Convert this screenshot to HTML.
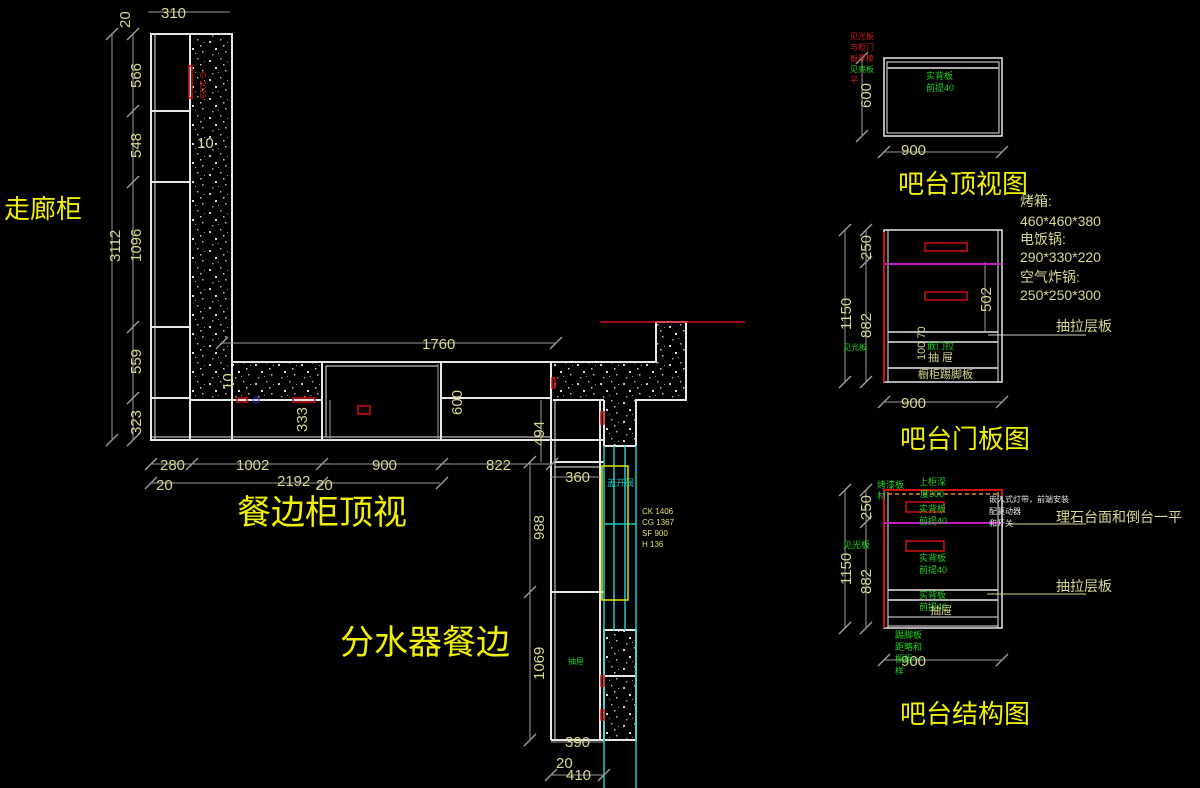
<!DOCTYPE html>
<html><head><meta charset="utf-8"><style>
html,body{margin:0;padding:0;background:#000;width:1200px;height:788px;overflow:hidden}
svg{display:block}
text{font-family:"Liberation Sans","Noto Sans CJK SC",sans-serif}
</style></head><body>
<svg width="1200" height="788" viewBox="0 0 1200 788" xmlns="http://www.w3.org/2000/svg">
<defs>
<pattern id="gr" width="23" height="19" patternUnits="userSpaceOnUse">
<rect width="23" height="19" fill="#000"/>
<rect x="2" y="3" width="2" height="2" fill="#ccc"/>
<rect x="13" y="1" width="1.5" height="1.5" fill="#aaa"/>
<rect x="8" y="10" width="2" height="2" fill="#ddd"/>
<rect x="18" y="13" width="1.5" height="1.5" fill="#bbb"/>
<rect x="5" y="16" width="1.5" height="1.5" fill="#999"/>
<rect x="16" y="7" width="1.5" height="1.5" fill="#ccc"/>
<rect x="11" y="15" width="1" height="1" fill="#999"/>
<rect x="20" y="4" width="1" height="1" fill="#999"/>
</pattern>
</defs>
<rect width="1200" height="788" fill="#000"/>

<g fill="url(#gr)">
<rect x="191" y="35" width="41" height="328"/>
<rect x="191" y="363" width="131" height="37"/>
<rect x="553" y="363" width="133" height="37"/>
<rect x="656" y="322" width="30" height="41"/>
<rect x="604" y="400" width="32" height="46"/>
<rect x="604" y="630" width="32" height="110"/>
</g>

<g stroke="#e6e6e6" stroke-width="2" fill="none">
<rect x="151" y="34" width="81" height="406"/>
<line x1="155" y1="34" x2="155" y2="440" stroke-width="1"/>
<line x1="190" y1="34" x2="190" y2="440"/>
<line x1="151" y1="111" x2="190" y2="111"/>
<line x1="151" y1="182" x2="190" y2="182"/>
<line x1="151" y1="327" x2="190" y2="327"/>
<line x1="151" y1="398" x2="190" y2="398"/>
<polyline points="232,362 656,362 656,322 686,322 686,400 636,400 636,446"/>
<line x1="190" y1="400" x2="322" y2="400"/>
<line x1="151" y1="440" x2="604" y2="440"/>
<line x1="151" y1="437" x2="551" y2="437" stroke-width="1"/>
<rect x="322" y="362" width="119" height="78"/>
<rect x="326" y="366" width="112" height="71" stroke-width="1"/>
<line x1="441" y1="398" x2="551" y2="398"/>
<line x1="553" y1="400" x2="604" y2="400"/>
<line x1="551" y1="362" x2="551" y2="740"/>
<line x1="555" y1="400" x2="555" y2="740" stroke-width="1"/>
<line x1="600" y1="400" x2="600" y2="740"/>
<line x1="604" y1="400" x2="604" y2="446"/>
<line x1="555" y1="462" x2="604" y2="462"/>
<line x1="555" y1="467" x2="600" y2="467" stroke-width="1"/>
<line x1="551" y1="592" x2="604" y2="592"/>
<line x1="551" y1="740" x2="604" y2="740"/>
<line x1="604" y1="446" x2="636" y2="446"/>
<rect x="604" y="630" width="32" height="110"/>
<line x1="604" y1="676" x2="636" y2="676"/>
</g>

<g stroke="#1ec8c8" stroke-width="1.5">
<line x1="604" y1="446" x2="604" y2="788"/>
<line x1="614" y1="446" x2="614" y2="630"/>
<line x1="625" y1="446" x2="625" y2="630"/>
<line x1="636" y1="446" x2="636" y2="788"/>
<line x1="604" y1="524" x2="636" y2="524"/>
</g>
<rect x="602" y="466" width="26" height="134" stroke="#e6e600" stroke-width="1.5" fill="none"/>
<text x="607" y="486" font-size="9" fill="#20c0c0">盖开阀</text>
<g font-family="Liberation Mono" font-size="8" fill="#e0e070">
<text x="642" y="514">CK 1406</text><text x="642" y="525">CG 1367</text>
<text x="642" y="536">SF 900</text><text x="642" y="547">H 136</text>
</g>
<text x="568" y="664" font-size="8" fill="#20d020">抽屉</text>

<g stroke="#d01010" stroke-width="1.5" fill="none">
<line x1="600" y1="322" x2="745" y2="322"/>
<rect x="189" y="66" width="3" height="32"/>
<rect x="237" y="398" width="10" height="4"/>
<rect x="293" y="398" width="22" height="4"/>
<rect x="358" y="406" width="12" height="8"/>
<rect x="601" y="412" width="3" height="12"/>
<rect x="552" y="378" width="3" height="10"/>
<rect x="601" y="676" width="3" height="10"/>
<rect x="601" y="710" width="3" height="10"/>
</g>
<circle cx="256" cy="400" r="3" stroke="#2030e0" fill="none"/>
<text x="200" y="72" font-size="8" fill="#d02020" transform="rotate(90 200 72)">G 2023</text>

<g stroke="#9a9a9a" stroke-width="1" fill="none">
<line x1="112" y1="34" x2="112" y2="440"/>
<line x1="133" y1="34" x2="133" y2="440"/>
<line x1="148" y1="12" x2="230" y2="12"/>
<line x1="151" y1="464" x2="551" y2="464"/>
<line x1="151" y1="483" x2="440" y2="483"/>
<line x1="222" y1="343" x2="556" y2="343"/>
<line x1="330" y1="400" x2="330" y2="440"/>
<line x1="438" y1="364" x2="438" y2="440"/>
<line x1="541" y1="400" x2="541" y2="462"/>
<line x1="530" y1="462" x2="530" y2="740"/>
<line x1="551" y1="477" x2="600" y2="477"/>
<line x1="551" y1="742" x2="604" y2="742"/>
<line x1="551" y1="775" x2="604" y2="775"/>
<line x1="862" y1="58" x2="862" y2="136"/>
<line x1="884" y1="152" x2="1002" y2="152"/>
<line x1="845" y1="230" x2="845" y2="382"/>
<line x1="866" y1="230" x2="866" y2="382"/>
<line x1="884" y1="402" x2="1002" y2="402"/>
<line x1="985" y1="262" x2="985" y2="332"/>
<line x1="845" y1="490" x2="845" y2="628"/>
<line x1="866" y1="490" x2="866" y2="628"/>
<line x1="884" y1="660" x2="1002" y2="660"/>
</g>
<g stroke="#9a9a9a" stroke-width="1.5">
<path d="M106 40l12-12M106 446l12-12M127 40l12-12M127 117l12-12M127 188l12-12M127 333l12-12M127 404l12-12M127 446l12-12M145 470l12-12M186 470l12-12M316 470l12-12M436 470l12-12M546 470l12-12M145 489l12-12M316 489l12-12M436 489l12-12M216 349l12-12M550 349l12-12M856 64l12-12M856 142l12-12M878 158l12-12M996 158l12-12M839 236l12-12M839 388l12-12M860 236l12-12M860 268l12-12M860 388l12-12M878 408l12-12M996 408l12-12M839 496l12-12M839 634l12-12M860 496l12-12M860 528l12-12M860 634l12-12M878 666l12-12M996 666l12-12M524 598l12-12M524 468l12-12M524 746l12-12M545 781l12-12M598 781l12-12"/>
</g>

<g fill="#d8d890" font-size="15">
<text x="161" y="18">310</text>
<text x="160" y="470">280</text>
<text x="236" y="470">1002</text>
<text x="372" y="470">900</text>
<text x="486" y="470">822</text>
<text x="277" y="486">2192</text>
<text x="156" y="490">20</text><text x="316" y="490">20</text>
<text x="422" y="349">1760</text>
<text x="565" y="482">360</text>
<text x="565" y="747">390</text>
<text x="556" y="768">20</text>
<text x="566" y="780">410</text>
<text x="197" y="148">10</text>
<text x="901" y="155">900</text>
<text x="901" y="408">900</text>
<text x="901" y="666">900</text>
</g>
<g fill="#d8d890" font-size="15">
<text transform="translate(130,28) rotate(-90)">20</text>
<text transform="translate(141,88) rotate(-90)">566</text>
<text transform="translate(141,158) rotate(-90)">548</text>
<text transform="translate(120,262) rotate(-90)">3112</text>
<text transform="translate(141,262) rotate(-90)">1096</text>
<text transform="translate(141,374) rotate(-90)">559</text>
<text transform="translate(141,435) rotate(-90)">323</text>
<text transform="translate(233,390) rotate(-90)">10</text>
<text transform="translate(307,432) rotate(-90)">333</text>
<text transform="translate(462,415) rotate(-90)">600</text>
<text transform="translate(544,446) rotate(-90)">494</text>
<text transform="translate(544,540) rotate(-90)">988</text>
<text transform="translate(544,680) rotate(-90)">1069</text>
<text transform="translate(871,108) rotate(-90)">600</text>
<text transform="translate(871,260) rotate(-90)">250</text>
<text transform="translate(851,330) rotate(-90)">1150</text>
<text transform="translate(871,338) rotate(-90)">882</text>
<text transform="translate(991,312) rotate(-90)">502</text>
<text transform="translate(871,520) rotate(-90)">250</text>
<text transform="translate(851,585) rotate(-90)">1150</text>
<text transform="translate(871,594) rotate(-90)">882</text>
</g>

<g fill="#f0f000">
<text x="4" y="218" font-size="26">走廊柜</text>
<text x="237" y="524" font-size="34">餐边柜顶视</text>
<text x="340" y="654" font-size="34">分水器餐边</text>
<text x="898" y="193" font-size="26">吧台顶视图</text>
<text x="900" y="448" font-size="26">吧台门板图</text>
<text x="900" y="723" font-size="26">吧台结构图</text>
</g>

<g stroke="#e6e6e6" stroke-width="1.5" fill="none">
<rect x="884" y="58" width="118" height="78"/>
<rect x="887" y="62" width="112" height="71" stroke-width="1"/>
<line x1="887" y1="68" x2="999" y2="68" stroke="#aaa" stroke-width="2"/>
</g>
<g font-size="9" fill="#20d020"><text x="926" y="79">实背板</text><text x="926" y="91">前提40</text></g>
<g font-size="8" fill="#d02020"><text x="850" y="39">见光板</text><text x="850" y="50">与柜门</text><text x="850" y="61">板厚棱</text><text x="850" y="83">平</text></g>
<text x="850" y="72" font-size="8" fill="#20d020">见亮板</text>

<g stroke="#e6e6e6" stroke-width="1.5" fill="none">
<rect x="884" y="230" width="118" height="152"/>
<line x1="888" y1="230" x2="888" y2="382" stroke-width="1"/>
<line x1="998" y1="230" x2="998" y2="382" stroke-width="1"/>
<line x1="888" y1="332" x2="998" y2="332"/>
<line x1="888" y1="342" x2="998" y2="342"/>
<line x1="888" y1="368" x2="998" y2="368"/>
</g>
<line x1="884" y1="264" x2="1002" y2="264" stroke="#c020c0" stroke-width="2"/>
<line x1="884" y1="232" x2="884" y2="382" stroke="#d01010" stroke-width="2"/>
<g stroke="#d01010" stroke-width="1.5" fill="none"><rect x="925" y="243" width="42" height="8"/><rect x="925" y="292" width="42" height="8"/></g>
<text x="927" y="349" font-size="9" fill="#20d020">嵌门拉</text>
<text x="928" y="361" font-size="11" fill="#d8d890">抽 屉</text>
<text x="918" y="378" font-size="11" fill="#d8d890">橱柜踢脚板</text>
<text x="843" y="350" font-size="8" fill="#20d020">见光板</text>
<text transform="translate(925,360) rotate(-90)" font-size="11" fill="#d8d890">100 70</text>
<g fill="#d8d890" font-size="14">
<text x="1020" y="206">烤箱:</text><text x="1020" y="226">460*460*380</text>
<text x="1020" y="244">电饭锅:</text><text x="1020" y="262">290*330*220</text>
<text x="1020" y="282">空气炸锅:</text><text x="1020" y="300">250*250*300</text>
<text x="1056" y="331">抽拉层板</text>
</g>
<line x1="988" y1="335" x2="1086" y2="335" stroke="#ccc" stroke-width="1"/>

<g stroke="#e6e6e6" stroke-width="1.5" fill="none">
<rect x="884" y="490" width="118" height="138"/>
<line x1="888" y1="492" x2="888" y2="628" stroke-width="1"/>
<line x1="998" y1="492" x2="998" y2="628" stroke-width="1"/>
<line x1="888" y1="590" x2="998" y2="590"/>
<line x1="888" y1="600" x2="998" y2="600"/>
<line x1="888" y1="626" x2="998" y2="626" stroke-width="1"/>
<line x1="888" y1="617" x2="998" y2="617" stroke-width="1"/>
</g>
<polyline points="884,628 884,490 1002,490 1002,496" stroke="#d01010" stroke-width="2" fill="none"/>
<line x1="888" y1="494" x2="998" y2="494" stroke="#e09020" stroke-width="1.5" stroke-dasharray="4,3"/>
<line x1="884" y1="523" x2="1002" y2="523" stroke="#c020c0" stroke-width="2"/>
<g stroke="#d01010" stroke-width="1.5" fill="none"><rect x="906" y="502" width="38" height="10"/><rect x="906" y="541" width="38" height="10"/></g>
<g font-size="9" fill="#20d020">
<text x="877" y="488">烤漆板</text><text x="877" y="499">材</text>
<text x="919" y="485">上柜深</text><text x="920" y="497">度300</text>
<text x="919" y="512">实背板</text><text x="919" y="524">前提40</text>
<text x="919" y="561">实背板</text><text x="919" y="573">前提40</text>
<text x="919" y="598">实背板</text><text x="919" y="610">前提40</text>
<text x="895" y="638">踢脚板</text><text x="895" y="650">距略和</text><text x="895" y="662">橱柜一</text><text x="895" y="674">样</text>
<text x="843" y="548">见光板</text>
</g>
<text x="930" y="614" font-size="11" fill="#d8d890">抽屉</text>
<g font-size="8" fill="#e6e6e6"><text x="989" y="502">嵌入式灯带，前端安装</text><text x="989" y="514">配驱动器</text><text x="989" y="526">和开关</text></g>
<g fill="#d8d890" font-size="14"><text x="1056" y="522">理石台面和倒台一平</text><text x="1056" y="591">抽拉层板</text></g>
<line x1="1010" y1="524" x2="1086" y2="524" stroke="#d8d890" stroke-width="1"/>
<line x1="987" y1="594" x2="1086" y2="594" stroke="#d8d890" stroke-width="1"/>
</svg>
</body></html>
